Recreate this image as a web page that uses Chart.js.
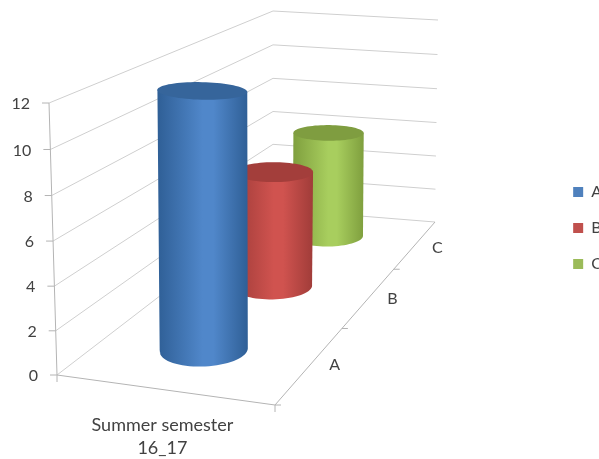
<!DOCTYPE html>
<html>
<head>
<meta charset="utf-8">
<title>Summer semester 16_17</title>
<script src="https://cdn.jsdelivr.net/npm/chart.js@4/dist/chart.umd.js"></script>
<style>
  html, body { margin: 0; padding: 0; background: #fff; overflow: hidden; width: 599px; height: 459px; }
  canvas { display: block; }
</style>
</head>
<body>
<canvas id="myChart" width="612" height="459"></canvas>
<script>
const categories = [["Summer semester", "16_17"]];
const seriesNames = ["A", "B", "C"];
const valuesA = [12];
const valuesB = [6];
const valuesC = [6];
const maxValue = 12;
const tickStep = 2;

const textColor = "#424242";
const gridColor = "#cfcfcf";
const axisColor = "#b4b4b4";

// side edge, side middle, cap
const shades = [
    ["#2f5f96", "#5087ca", "#36659b"],
    ["#a03c39", "#d0534f", "#a33e3b"],
    ["#7f9f3e", "#a8ce5e", "#7f9d40"]
];

// corners of the 3D box on the page: front-left, front-right, back-right, back-left
const floorCorners = [[57, 375], [275, 405], [435, 222], [273, 209]];
const topCorners = [[49, 103], [278, 128], [438, 20], [273, 11]];

function quadMap(c) {
    const [x0, y0] = c[0], [x1, y1] = c[1], [x2, y2] = c[2], [x3, y3] = c[3];
    const dx1 = x1 - x2, dx2 = x3 - x2, sx = x0 - x1 + x2 - x3;
    const dy1 = y1 - y2, dy2 = y3 - y2, sy = y0 - y1 + y2 - y3;
    const den = dx1 * dy2 - dx2 * dy1;
    const g = (sx * dy2 - dx2 * sy) / den;
    const h = (dx1 * sy - sx * dy1) / den;
    const a = x1 - x0 + g * x1, b = x3 - x0 + h * x3;
    const d = y1 - y0 + g * y1, e = y3 - y0 + h * y3;
    return (u, w) => {
        const q = g * u + h * w + 1;
        return [(a * u + b * w + x0) / q, (d * u + e * w + y0) / q];
    };
}

const floorMap = quadMap(floorCorners);
const topMap = quadMap(topCorners);

// u runs along the front edge, w into the depth, s up the value axis (all 0..1)
function project(u, w, s) {
    const f = floorMap(u, w), t = topMap(u, w);
    const k = 0.97 * s / (1 - 0.03 * s);
    return [f[0] + (t[0] - f[0]) * k, f[1] + (t[1] - f[1]) * k];
}

class WallValueScale extends Chart.LinearScale {
    static id = "wallValue";
    static defaults = {};
    unit(v) {
        return (v - this.min) / (this.max - this.min);
    }
    getPixelForValue(v) {
        return project(0, 0, this.unit(v))[1];
    }
    // tick labels follow the leaning front edge of the wall
    _computeLabelItems(area) {
        const items = super._computeLabelItems(area);
        items.forEach((item, i) => {
            const edge = project(0, 0, this.unit(this.ticks[i].value));
            item.options.translation[0] = edge[0] - 19;
            item.options.translation[1] += 1;
        });
        return items;
    }
    _computeLabelArea() {
        return undefined;
    }
}

class FrontCategoryScale extends Chart.CategoryScale {
    static id = "frontCategory";
    static defaults = {};
    unit(index) {
        return (index + 0.5) / this.getLabels().length;
    }
    getPixelForValue(value) {
        const index = typeof value === "number" ? value : this.parse(value);
        return project(this.unit(index), 0, 0)[0];
    }
    _computeLabelItems(area) {
        const items = super._computeLabelItems(area);
        items.forEach((item) => {
            item.options.translation[1] += 8;
        });
        return items;
    }
    _computeLabelArea() {
        return undefined;
    }
}

Chart.register(WallValueScale, FrontCategoryScale);

const boxWalls = {
    id: "boxWalls",
    beforeDatasetsDraw(chart) {
        const ctx = chart.ctx;
        const yScale = chart.scales.y;
        const segment = (a, b, color) => {
            ctx.strokeStyle = color;
            ctx.beginPath();
            ctx.moveTo(a[0], a[1]);
            ctx.lineTo(b[0], b[1]);
            ctx.stroke();
        };
        ctx.save();
        ctx.lineWidth = 1;

        // wall grid, one bent line per value tick
        yScale.ticks.forEach((tick) => {
            const s = yScale.unit(tick.value);
            const front = project(0, 0, s);
            segment(front, project(0, 1, s), gridColor);
            segment(project(0, 1, s), project(1, 1, s), gridColor);
            segment([front[0] - 7, front[1]], front, axisColor);
        });

        segment(project(0, 0, 0), project(0, 0, 1), axisColor);
        segment(project(0, 0, 0), project(1, 0, 0), axisColor);
        segment(project(1, 0, 0), project(1, 1, 0), axisColor);

        // ticks on the front and depth edges
        [0, 1].forEach((u) => {
            const p = project(u, 0, 0);
            segment(p, [p[0], p[1] + 7], axisColor);
        });
        seriesNames.forEach((name, i) => {
            const p = project(1, i / seriesNames.length, 0);
            segment([p[0], p[1]], [p[0] + 6, p[1]], axisColor);
        });

        // depth axis labels
        ctx.fillStyle = textColor;
        ctx.font = "16px Lato";
        ctx.textAlign = "center";
        ctx.textBaseline = "middle";
        seriesNames.forEach((name, i) => {
            const p = project(1, (i + 0.5) / seriesNames.length, 0);
            ctx.fillText(name, p[0] + 24 - i, p[1] + 1 + i);
        });
        ctx.restore();
    },
    // each dataset is drawn as a cylinder standing in its own depth row
    beforeDatasetDraw(chart, args) {
        const ctx = chart.ctx;
        const i = args.index;
        const value = chart.data.datasets[i].data[0];
        const u0 = chart.scales.x.unit(0) - 0.01;
        const w0 = (i + 0.5) / chart.data.datasets.length + 0.006;
        const s = chart.scales.y.unit(value);
        const ring = (height) => {
            // the circle flattens a little higher up, the eye sits low
            const rw = 0.074 - 0.012 * height * height;
            const pts = [];
            for (let k = 0; k < 72; k++) {
                const a = k / 72 * Math.PI * 2;
                pts.push(project(u0 + 0.197 * Math.cos(a), w0 + rw * Math.sin(a), height));
            }
            return pts;
        };
        const base = ring(0), cap = ring(s);
        const leftOf = (pts) => pts.reduce((m, p) => (p[0] < m[0] ? p : m));
        const rightOf = (pts) => pts.reduce((m, p) => (p[0] > m[0] ? p : m));
        const bl = leftOf(base), br = rightOf(base), tl = leftOf(cap), tr = rightOf(cap);
        const midY = (bl[1] + br[1]) / 2;
        const lower = base.filter((p) => p[1] >= midY).sort((p, q) => p[0] - q[0]);

        const [edge, middle, top] = shades[i];
        const grad = ctx.createLinearGradient(Math.min(bl[0], tl[0]), 0, Math.max(br[0], tr[0]), 0);
        grad.addColorStop(0, edge);
        grad.addColorStop(0.5, middle);
        grad.addColorStop(0.62, middle);
        grad.addColorStop(1, edge);

        ctx.save();
        ctx.fillStyle = grad;
        ctx.beginPath();
        ctx.moveTo(tl[0], tl[1]);
        ctx.lineTo(bl[0], bl[1]);
        lower.forEach((p) => ctx.lineTo(p[0], p[1]));
        ctx.lineTo(br[0], br[1]);
        ctx.lineTo(tr[0], tr[1]);
        ctx.closePath();
        ctx.fill();

        ctx.fillStyle = top;
        ctx.beginPath();
        cap.forEach((p, k) => (k ? ctx.lineTo(p[0], p[1]) : ctx.moveTo(p[0], p[1])));
        ctx.closePath();
        ctx.fill();
        ctx.restore();
        return false;
    }
};

const ctx = document.getElementById("myChart").getContext("2d");
new Chart(ctx, {
    type: "bar",
    plugins: [boxWalls],
    data: {
        labels: categories,
        datasets: [
            { label: seriesNames[0], data: valuesA, backgroundColor: "#4f81bd" },
            { label: seriesNames[1], data: valuesB, backgroundColor: "#c0504d" },
            { label: seriesNames[2], data: valuesC, backgroundColor: "#9bbb59" }
        ]
    },
    options: {
        responsive: false,
        animation: false,
        layout: { padding: { left: 0, right: 0, top: 0, bottom: 3 } },
        plugins: {
            tooltip: { enabled: false },
            legend: {
                position: "right",
                labels: {
                    boxWidth: 10,
                    boxHeight: 10,
                    padding: 20,
                    color: textColor,
                    font: { family: "Lato", size: 16 }
                }
            }
        },
        scales: {
            x: {
                type: "frontCategory",
                grid: { display: false },
                border: { display: false },
                ticks: {
                    color: textColor,
                    maxRotation: 0,
                    padding: 4,
                    font: { family: "Lato", size: 18, lineHeight: 1.28 }
                }
            },
            y: {
                type: "wallValue",
                min: 0,
                max: maxValue,
                grid: { display: false },
                border: { display: false },
                ticks: {
                    stepSize: tickStep,
                    color: textColor,
                    font: { family: "Lato", size: 16 }
                }
            }
        }
    }
});
</script>
</body>
</html>
